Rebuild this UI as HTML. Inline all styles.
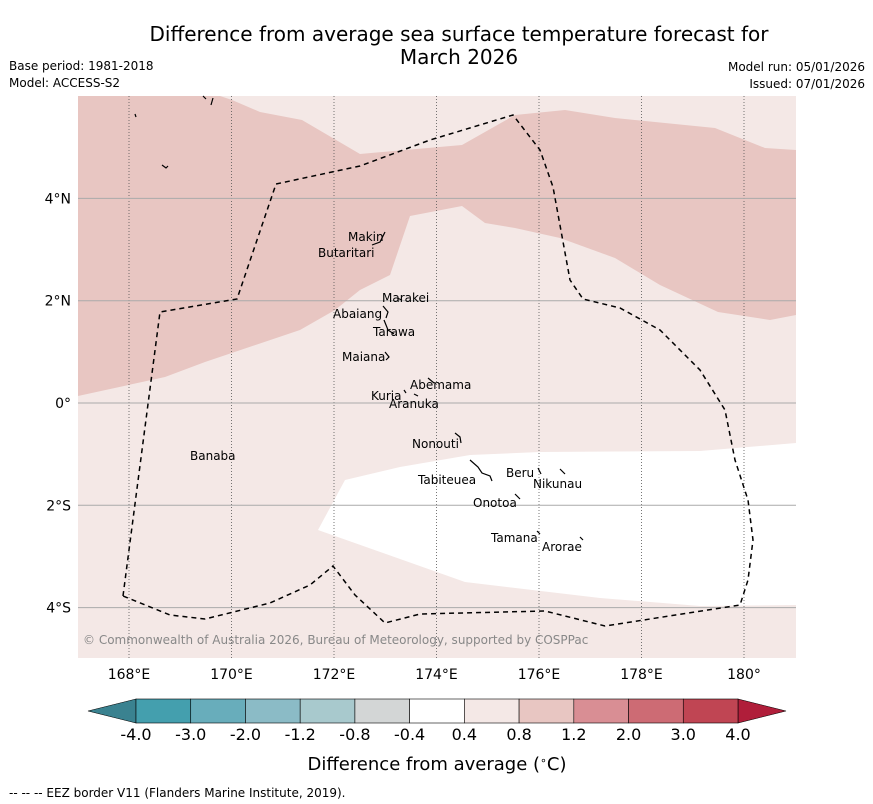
<!DOCTYPE html>
<html><head><meta charset="utf-8"><style>
body{margin:0;background:#fff;font-family:"DejaVu Sans","Liberation Sans",sans-serif;}
svg{display:block}
</style></head><body>
<svg id="c" width="873" height="804" xmlns="http://www.w3.org/2000/svg">
<text x="459" y="41" font-size="20" text-anchor="middle">Difference from average sea surface temperature forecast for</text>
<text x="459" y="64" font-size="20" text-anchor="middle">March 2026</text>
<text x="9" y="70" font-size="12">Base period: 1981-2018</text>
<text x="9" y="87" font-size="12">Model: ACCESS-S2</text>
<text x="865" y="71" font-size="12" text-anchor="end">Model run: 05/01/2026</text>
<text x="865" y="88" font-size="12" text-anchor="end">Issued: 07/01/2026</text>
<g id="map">
<rect x="78" y="96" width="718" height="562" fill="#f4e8e6"/>
<polygon fill="#e8c6c2" points="78,396 165,377 205,362 300,330 335,310 360,290 390,275 410,216 462,206 485,223 515,228 560,238 615,258 660,285 718,312 770,320 796,315 796,150 765,148 715,128 615,118 565,110 515,115 462,145 360,154 302,120 260,112 232,100 220,96 78,96"/>
<polygon fill="#ffffff" points="318,530 345,480 400,467 470,455 540,452 700,451 796,443 796,605 700,606 600,598 465,582"/>
<g id="grid"></g>
<polyline fill="none" stroke="#000" stroke-width="1.5" stroke-dasharray="5,4" points="123,596 160,312 237,299 276,184 360,166 430,140 513,115 540,150 553,187 570,280 583,299 620,308 660,330 700,370 725,410 735,460 748,500 753,540 748,580 740,605 605,626 545,611 420,614 385,623 355,595 333,566 310,585 270,603 205,619 170,615 123,596"/>
<g id="islands" stroke="#000" stroke-width="1.2" fill="none">
<path d="M372,245 L380,242 L385,232"/><path d="M397,298 L402,300"/><path d="M383,306 L388,312 L386,318"/><path d="M384,320 L388,330 L394,334"/>
<path d="M385,352 L389,357 L386,360"/><path d="M428,378 L434,383"/><path d="M404,390 L406,393"/><path d="M414,394 L418,396"/>
<path d="M455,433 L460,437 L461,443"/><path d="M470,460 L478,467 L482,473 L490,476 L492,481"/><path d="M538,468 L541,474"/><path d="M560,469 L565,474"/>
<path d="M515,494 L520,499"/><path d="M537,531 L540,534"/><path d="M580,537 L583,540"/><path d="M162,165 L166,168 L168,166"/><path d="M135,114 L136,117"/><path d="M203,96 L206,99 M213,98 L211,105"/>
</g>
<g font-size="12" fill="#000">
<text x="348" y="241">Makin</text><text x="318" y="257">Butaritari</text><text x="382" y="302">Marakei</text><text x="333" y="318">Abaiang</text>
<text x="373" y="336">Tarawa</text><text x="342" y="361">Maiana</text><text x="410" y="389">Abemama</text><text x="371" y="400">Kuria</text>
<text x="389" y="408">Aranuka</text><text x="412" y="448">Nonouti</text><text x="190" y="460">Banaba</text><text x="506" y="477">Beru</text>
<text x="533" y="488">Nikunau</text><text x="418" y="484">Tabiteuea</text><text x="473" y="507">Onotoa</text><text x="491" y="542">Tamana</text><text x="542" y="551">Arorae</text>
</g>
<text x="83" y="644" font-size="12" fill="#888">© Commonwealth of Australia 2026, Bureau of Meteorology, supported by COSPPac</text>
</g>
<g id="axes"></g>
<g id="cbar"></g>
<text x="437" y="770" font-size="18" text-anchor="middle">Difference from average (<tspan baseline-shift="super" font-size="11">∘</tspan>C)</text>
<text x="9" y="797" font-size="12">--  --  -- EEZ border V11 (Flanders Marine Institute, 2019).</text>
</svg>
<script>
const lonTicks=[168,170,172,174,176,178,180];
const lonLabels=["168°E","170°E","172°E","174°E","176°E","178°E","180°"];
const latTicks=[4,2,0,-2,-4];
const latLabels=["4°N","2°N","0°","2°S","4°S"];
const levels=["-4.0","-3.0","-2.0","-1.2","-0.8","-0.4","0.4","0.8","1.2","2.0","3.0","4.0"];
const colors=["#449fae","#68adbb","#8bbbc6","#a8c9cd","#d3d6d6","#ffffff","#f4e8e6","#e8c6c2","#d98e94","#cd6b74","#c04553"];
const NS="http://www.w3.org/2000/svg";
const X=lon=>129+(lon-168)*51.25;
const Y=lat=>403-lat*51.15;
function mk(t,a,p){const e=document.createElementNS(NS,t);for(const k in a)e.setAttribute(k,a[k]);p.appendChild(e);return e;}
const grid=document.getElementById('grid'),axes=document.getElementById('axes'),cb=document.getElementById('cbar');
lonTicks.forEach((v,i)=>{
 const l=mk('line',{x1:X(v),x2:X(v),y1:96,y2:658,stroke:'#555','stroke-width':0.8,'stroke-dasharray':'1,2'},grid);
 
 
 const t=mk('text',{x:X(v),y:679,'font-size':14,'text-anchor':'middle'},axes);t.textContent=lonLabels[i];
 
 
});
latTicks.forEach((v,i)=>{
 const l=mk('line',{x1:78,x2:796,y1:Y(v),y2:Y(v),stroke:'#aaa','stroke-width':1},grid);
 
 
 const t=mk('text',{x:71,y:Y(v)+5,'font-size':14,'text-anchor':'end'},axes);t.textContent=latLabels[i];
 
 
});
const x0=136,x1=738,w=(x1-x0)/colors.length,y0=699,y1=723;
const lt=mk('polygon',{points:`${x0},${y0} 88,711 ${x0},${y1}`,fill:'#3a8290',stroke:'#000','stroke-width':0.6},cb);


const rt=mk('polygon',{points:`${x1},${y0} 786,711 ${x1},${y1}`,fill:'#b01e3a',stroke:'#000','stroke-width':0.6},cb);


colors.forEach((c,i)=>{
 const r=mk('rect',{x:x0+i*w,y:y0,width:w,height:y1-y0,fill:c,stroke:'#000','stroke-width':0.6},cb);
 
 
});
levels.forEach((v,i)=>{
 const t=mk('text',{x:x0+i*w,y:740,'font-size':16,'text-anchor':'middle'},cb);t.textContent=v;
 
 
});
</script>
</body></html>
